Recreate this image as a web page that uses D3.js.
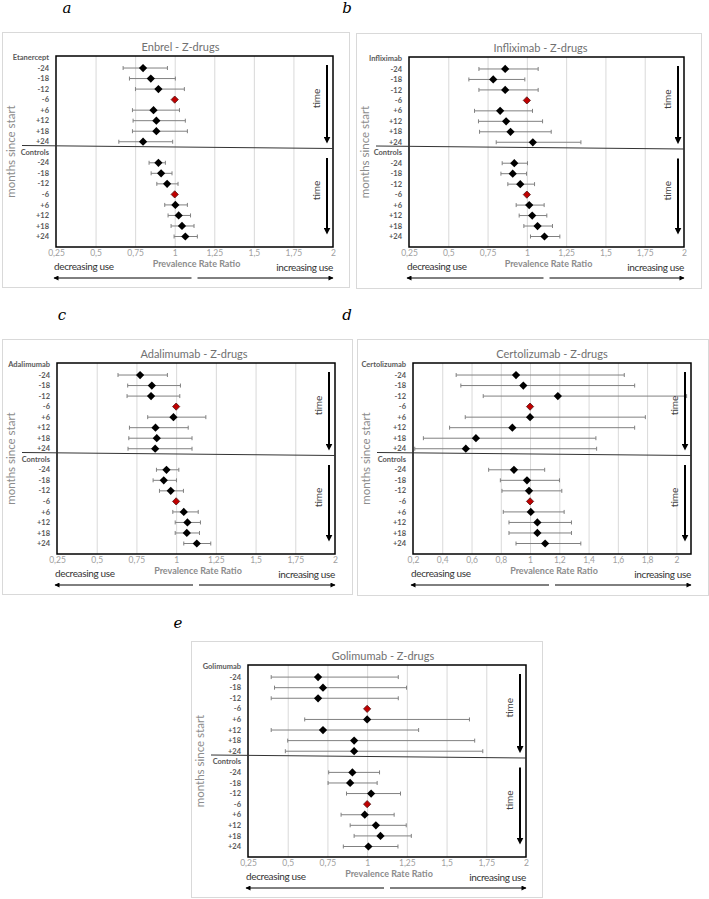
<!DOCTYPE html>
<html lang="en">
<head>
<meta charset="UTF-8">
<title>Z-drugs prevalence rate ratios</title>
<style>
	body { margin: 0; background: #fff; }
	svg { display: block; font-family: Lato, "Open Sans", sans-serif; }
	.use { font-size: 10px; letter-spacing: -0.35px; }
</style>
</head>
<body>
<script src="https://d3js.org/d3.v7.min.js"></script>
<script>
	// months relative to start, same for every panel
	var rows = ["-24", "-18", "-12", "-6", "+6", "+12", "+18", "+24"];

	var ticksQuarter = [0.25, 0.5, 0.75, 1, 1.25, 1.5, 1.75, 2];
	var ticksFifth = [0.2, 0.4, 0.6, 0.8, 1, 1.2, 1.4, 1.6, 1.8, 2];

	// a - Enbrel (etanercept)
	var enbrelDrug   = [0.800, 0.849, 0.897, 1, 0.866, 0.884, 0.884, 0.800];
	var enbrelDrugLo = [0.674, 0.714, 0.752, null, 0.733, 0.737, 0.733, 0.647];
	var enbrelDrugHi = [0.954, 1.004, 1.061, null, 1.030, 1.067, 1.080, 0.987];
	var enbrelCtrl   = [0.897, 0.914, 0.952, 1, 1.004, 1.025, 1.046, 1.067];
	var enbrelCtrlLo = [0.838, 0.851, 0.887, null, 0.937, 0.958, 0.977, 0.996];
	var enbrelCtrlHi = [0.941, 0.983, 1.021, null, 1.080, 1.100, 1.122, 1.143];

	// b - Infliximab
	var inflixDrug   = [0.862, 0.786, 0.862, 1, 0.830, 0.868, 0.896, 1.038];
	var inflixDrugLo = [0.695, 0.631, 0.695, null, 0.667, 0.692, 0.699, 0.805];
	var inflixDrugHi = [1.072, 0.987, 1.072, null, 1.036, 1.100, 1.155, 1.344];
	var inflixCtrl   = [0.920, 0.910, 0.958, 1, 1.015, 1.034, 1.068, 1.112];
	var inflixCtrlLo = [0.843, 0.835, 0.879, null, 0.932, 0.951, 0.981, 1.023];
	var inflixCtrlHi = [1.004, 0.998, 1.049, null, 1.110, 1.127, 1.163, 1.210];

	// c - Adalimumab
	var adaliDrug   = [0.773, 0.847, 0.842, 1, 0.983, 0.870, 0.878, 0.868];
	var adaliDrugLo = [0.634, 0.695, 0.691, null, 0.821, 0.706, 0.702, 0.697];
	var adaliDrugHi = [0.945, 1.027, 1.023, null, 1.187, 1.076, 1.100, 1.100];
	var adaliCtrl   = [0.939, 0.922, 0.966, 1, 1.048, 1.071, 1.067, 1.130];
	var adaliCtrlLo = [0.876, 0.855, 0.895, null, 0.979, 0.994, 0.994, 1.048];
	var adaliCtrlHi = [1.017, 1.002, 1.046, null, 1.139, 1.153, 1.147, 1.218];

	// d - Certolizumab
	var certoDrug   = [0.904, 0.954, 1.190, 1, 1.000, 0.879, 0.630, 0.561];
	var certoDrugLo = [0.495, 0.527, 0.680, null, 0.557, 0.450, 0.271, 0.212];
	var certoDrugHi = [1.644, 1.715, 2.070, null, 1.788, 1.715, 1.450, 1.455];
	var certoCtrl   = [0.890, 0.979, 0.993, 1, 1.005, 1.050, 1.050, 1.103];
	var certoCtrlLo = [0.717, 0.797, 0.808, null, 0.817, 0.856, 0.856, 0.904];
	var certoCtrlHi = [1.100, 1.201, 1.217, null, 1.233, 1.283, 1.283, 1.347];

	// e - Golimumab
	var golimDrug   = [0.691, 0.722, 0.691, 1, 1.000, 0.722, 0.918, 0.918];
	var golimDrugLo = [0.396, 0.417, 0.396, null, 0.607, 0.396, 0.500, 0.485];
	var golimDrugHi = [1.196, 1.248, 1.196, null, 1.644, 1.324, 1.677, 1.728];
	var golimCtrl   = [0.907, 0.893, 1.025, 1, 0.985, 1.055, 1.084, 1.008];
	var golimCtrlLo = [0.758, 0.754, 0.870, null, 0.836, 0.893, 0.918, 0.850];
	var golimCtrlHi = [1.078, 1.063, 1.210, null, 1.170, 1.246, 1.278, 1.194];

	var panels = [
		{letter: "a", title: "Enbrel - Z-drugs", name: "Etanercept",
			frame: [2, 32, 349, 287], plot: [56, 56, 333, 247], letterPos: [67, 13], titleDx: -14,
			domain: [0.25, 2], ticks: ticksQuarter,
			drug: [enbrelDrug, enbrelDrugLo, enbrelDrugHi], ctrl: [enbrelCtrl, enbrelCtrlLo, enbrelCtrlHi]},
		{letter: "b", title: "Infliximab - Z-drugs", name: "Infliximab",
			frame: [356, 33, 701, 288], plot: [409, 57, 684, 247], letterPos: [347, 13], titleDx: -6,
			domain: [0.25, 2], ticks: ticksQuarter,
			drug: [inflixDrug, inflixDrugLo, inflixDrugHi], ctrl: [inflixCtrl, inflixCtrlLo, inflixCtrlHi]},
		{letter: "c", title: "Adalimumab - Z-drugs", name: "Adalimumab",
			frame: [2, 339, 352, 594], plot: [57, 363, 335, 554], letterPos: [62, 320], titleDx: -2,
			domain: [0.25, 2], ticks: ticksQuarter,
			drug: [adaliDrug, adaliDrugLo, adaliDrugHi], ctrl: [adaliCtrl, adaliCtrlLo, adaliCtrlHi]},
		{letter: "d", title: "Certolizumab - Z-drugs", name: "Certolizumab",
			frame: [357, 339, 708, 595], plot: [413, 363, 691, 554], letterPos: [347, 320], titleDx: 0,
			domain: [0.2, 2.1], ticks: ticksFifth,
			drug: [certoDrug, certoDrugLo, certoDrugHi], ctrl: [certoCtrl, certoCtrlLo, certoCtrlHi]},
		{letter: "e", title: "Golimumab - Z-drugs", name: "Golimumab",
			frame: [191, 641, 542, 897], plot: [248, 665, 526, 857], letterPos: [178, 628], titleDx: -4,
			domain: [0.25, 2], ticks: ticksQuarter,
			drug: [golimDrug, golimDrugLo, golimDrugHi], ctrl: [golimCtrl, golimCtrlLo, golimCtrlHi]}
	];

	var svg = d3.select("body").append("svg")
		.attr("width", 709)
		.attr("height", 899);

	var defs = svg.append("defs");
	defs.append("marker")
		.attr("id", "headBig")
		.attr("markerUnits", "userSpaceOnUse")
		.attr("viewBox", "0 0 10 10")
		.attr("refX", 2).attr("refY", 5)
		.attr("markerWidth", 7).attr("markerHeight", 7)
		.attr("orient", "auto")
		.append("path").attr("d", "M0,0L10,5L0,10Z").attr("fill", "#000");
	defs.append("marker")
		.attr("id", "headSmall")
		.attr("markerUnits", "userSpaceOnUse")
		.attr("viewBox", "0 0 10 10")
		.attr("refX", 9).attr("refY", 5)
		.attr("markerWidth", 6).attr("markerHeight", 5)
		.attr("orient", "auto")
		.append("path").attr("d", "M0,0L10,5L0,10Z").attr("fill", "#000");

	var fmt = function(d) { return String(d).replace(".", ","); };

	function drawPanel(p) {
		var g = svg.append("g");
		var L = p.plot[0], T = p.plot[1], R = p.plot[2], B = p.plot[3];

		g.append("rect")
			.attr("x", p.frame[0] + 0.5).attr("y", p.frame[1] + 0.5)
			.attr("width", p.frame[2] - p.frame[0]).attr("height", p.frame[3] - p.frame[1])
			.attr("fill", "#fff").attr("stroke", "#d9d9d9");

		var x = d3.scaleLinear().domain(p.domain).range([L, R]);
		var y = d3.scaleLinear().domain([0, 17]).range([T + 1.5, B - 10.5]);

		// vertical gridlines
		var inner = p.ticks.filter(function(t) { return x(t) > L + 2 && x(t) < R - 2; });
		var grid = g.append("g")
			.attr("transform", "translate(0," + B + ")")
			.call(d3.axisBottom(x).tickValues(inner).tickSize(-(B - T)).tickFormat(""));
		grid.select(".domain").remove();
		grid.selectAll("line").attr("stroke", "#d9d9d9");

		// tick labels
		var ax = g.append("g")
			.attr("transform", "translate(0," + B + ")")
			.call(d3.axisBottom(x).tickValues(p.ticks).tickSize(0).tickPadding(3).tickFormat(fmt));
		ax.select(".domain").remove();
		ax.selectAll("text")
			.attr("fill", "#a0a0a0")
			.style("font-size", "8.5px")
			.style("font-family", "Lato, sans-serif");

		g.append("rect")
			.attr("x", L).attr("y", T)
			.attr("width", R - L).attr("height", B - T)
			.attr("fill", "none").attr("stroke", "#000").attr("stroke-width", 1.5);

		// separator between drug users and controls
		var ySep = (y(8) + y(9)) / 2;
		g.append("line")
			.attr("x1", p.frame[0] + 20).attr("y1", ySep - 1.5)
			.attr("x2", R).attr("y2", ySep + 1.5)
			.attr("stroke", "#333").attr("stroke-width", 1);

		// category labels
		var labels = [p.name].concat(rows, ["Controls"], rows);
		g.selectAll("text.cat")
			.data(labels)
			.enter()
			.append("text")
			.attr("class", "cat")
			.text(function(d) { return d; })
			.attr("x", L - 7)
			.attr("y", function(d, i) { return y(i); })
			.attr("dy", "0.35em")
			.attr("text-anchor", "end")
			.attr("fill", "#595959")
			.style("font-size", "7.5px")
			.style("font-weight", "bold");

		var pts = [];
		[p.drug, p.ctrl].forEach(function(s, k) {
			s[0].forEach(function(v, j) {
				pts.push({row: k * 9 + 1 + j, v: v, lo: s[1][j], hi: s[2][j], ref: rows[j] === "-6"});
			});
		});

		var bars = pts.filter(function(d) { return d.lo !== null; });
		g.selectAll("line.ci")
			.data(bars)
			.enter()
			.append("line")
			.attr("x1", function(d) { return x(d.lo); })
			.attr("x2", function(d) { return x(d.hi); })
			.attr("y1", function(d) { return y(d.row); })
			.attr("y2", function(d) { return y(d.row); })
			.attr("stroke", "#808080").attr("stroke-width", 1);
		["lo", "hi"].forEach(function(key) {
			g.selectAll("line.cap" + key)
				.data(bars)
				.enter()
				.append("line")
				.attr("x1", function(d) { return x(d[key]); })
				.attr("x2", function(d) { return x(d[key]); })
				.attr("y1", function(d) { return y(d.row) - 2; })
				.attr("y2", function(d) { return y(d.row) + 2; })
				.attr("stroke", "#808080").attr("stroke-width", 1);
		});

		g.selectAll("path.pt")
			.data(pts)
			.enter()
			.append("path")
			.attr("d", function(d) { return d3.symbol(d3.symbolSquare, d.ref ? 26 : 34)(); })
			.attr("transform", function(d) { return "translate(" + x(d.v) + "," + y(d.row) + ") rotate(45)"; })
			.attr("fill", function(d) { return d.ref ? "#c00000" : "#000"; })
			.attr("stroke", function(d) { return d.ref ? "#5a1a1a" : "none"; })
			.attr("stroke-width", 0.8);

		// time arrows
		var ax1 = R - 6;
		[[T + 9, ySep - 9], [ySep + 11, B - 18]].forEach(function(seg) {
			g.append("line")
				.attr("x1", ax1).attr("y1", seg[0])
				.attr("x2", ax1).attr("y2", seg[1])
				.attr("stroke", "#000").attr("stroke-width", 2)
				.attr("marker-end", "url(#headBig)");
			var mid = (seg[0] + seg[1]) / 2 - 3;
			g.append("text")
				.text("time")
				.attr("transform", "translate(" + (R - 13) + "," + mid + ") rotate(-90)")
				.attr("text-anchor", "middle")
				.attr("fill", "#404040")
				.style("font-size", "10px");
		});

		// y axis title
		g.append("text")
			.text("months since start")
			.attr("transform", "translate(" + (p.frame[0] + 9) + "," + ((T + B) / 2) + ") rotate(-90)")
			.attr("dy", "0.35em")
			.attr("text-anchor", "middle")
			.attr("fill", "#8c8c8c")
			.style("font-size", "11.5px");

		var cx = (L + R) / 2;
		g.append("text")
			.text("Prevalence Rate Ratio")
			.attr("x", cx + 2).attr("y", B + 20)
			.attr("text-anchor", "middle")
			.attr("fill", "#8c8c8c")
			.style("font-size", "9px")
			.style("font-weight", "bold");
		g.append("text")
			.attr("class", "use")
			.text("decreasing use")
			.attr("x", L - 2).attr("y", B + 23)
			.attr("fill", "#333");
		g.append("text")
			.attr("class", "use")
			.text("increasing use")
			.attr("x", R).attr("y", B + 24)
			.attr("text-anchor", "end")
			.attr("fill", "#333");

		g.append("line")
			.attr("x1", cx - 3).attr("y1", B + 31)
			.attr("x2", L - 2).attr("y2", B + 31)
			.attr("stroke", "#000").attr("stroke-width", 1)
			.attr("marker-end", "url(#headSmall)");
		g.append("line")
			.attr("x1", cx + 3).attr("y1", B + 31)
			.attr("x2", R).attr("y2", B + 31)
			.attr("stroke", "#000").attr("stroke-width", 1)
			.attr("marker-end", "url(#headSmall)");

		g.append("text")
			.text(p.title)
			.attr("x", cx + p.titleDx).attr("y", T - 5)
			.attr("text-anchor", "middle")
			.attr("fill", "#707070")
			.style("font-size", "11px");

		svg.append("text")
			.text(p.letter)
			.attr("x", p.letterPos[0]).attr("y", p.letterPos[1])
			.attr("text-anchor", "middle")
			.attr("fill", "#000")
			.style("font-family", "'DejaVu Serif', 'Liberation Serif', serif")
			.style("font-style", "italic")
			.style("font-size", "15px");
	}

	panels.forEach(drawPanel);
</script>
</body>
</html>
